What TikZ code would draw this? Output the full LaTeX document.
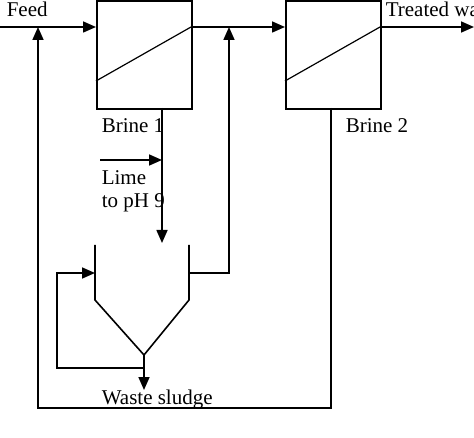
\documentclass[tikz,border=0pt]{standalone}
\usepackage{fontspec}
\setmainfont{Liberation Serif}
\usetikzlibrary{arrows.meta}
\begin{document}
\begin{tikzpicture}[x=1pt,y=-1pt,line width=1.6pt,
  flow/.style={-{Triangle[length=13pt,width=11pt]}},
  lbl/.style={font=\fontsize{21}{24}\selectfont,anchor=base west,inner sep=0pt}]
\useasboundingbox (0,0) rectangle (474,438);
% boxes
\node[draw,minimum width=95pt,minimum height=108pt,inner sep=0pt,anchor=north west] (b1) at (96,0) {};
\node[draw,minimum width=95pt,minimum height=108pt,inner sep=0pt,anchor=north west] (b2) at (285,0) {};
\draw[line width=1.2pt] (96,81) -- (191,27);
\draw[line width=1.2pt] (285,81) -- (380,27);
% labels
\node[lbl] (feed) at (6,17) {Feed};
\node[lbl] (tw) at (385,17) {Treated water};
\node[lbl] (br1) at (101,133) {Brine 1};
\node[lbl] (br2) at (345,133) {Brine 2};
\node[lbl] (lime) at (101,185) {Lime};
\node[lbl] (ph) at (101,208) {to pH 9};
\node[lbl] (ws) at (101,404) {Waste sludge};
% coordinates
\coordinate (fin) at (0,27);
\coordinate (mid) at (229,27);
\coordinate (j1) at (38,27);
\coordinate (out) at (474,27);
\coordinate (apex) at (144,355);
\coordinate (sl) at (144,390);
% main flow
\draw[flow] (fin) -- (b1.west |- fin);
\draw[flow] (191,27) -- (b2.west |- fin);
\draw[flow] (380,27) -- (out);
% big recycle
\draw[flow] (331,108) -- (331,408) -- (38,408) -- (j1);
% brine 1 to settler
\draw[flow] (162,108) -- (162,243);
\draw[flow] (100,160) -- (162,160);
% settler
\draw (95,245) -- (95,300) -- (apex) -- (189,300) -- (189,245);
\draw[flow] (apex) -- (sl);
\draw[flow] (144,368) -- (57,368) -- (57,273) -- (95,273);
\draw[flow] (189,273) -- (229,273) -- (mid);
\end{tikzpicture}
\end{document}
